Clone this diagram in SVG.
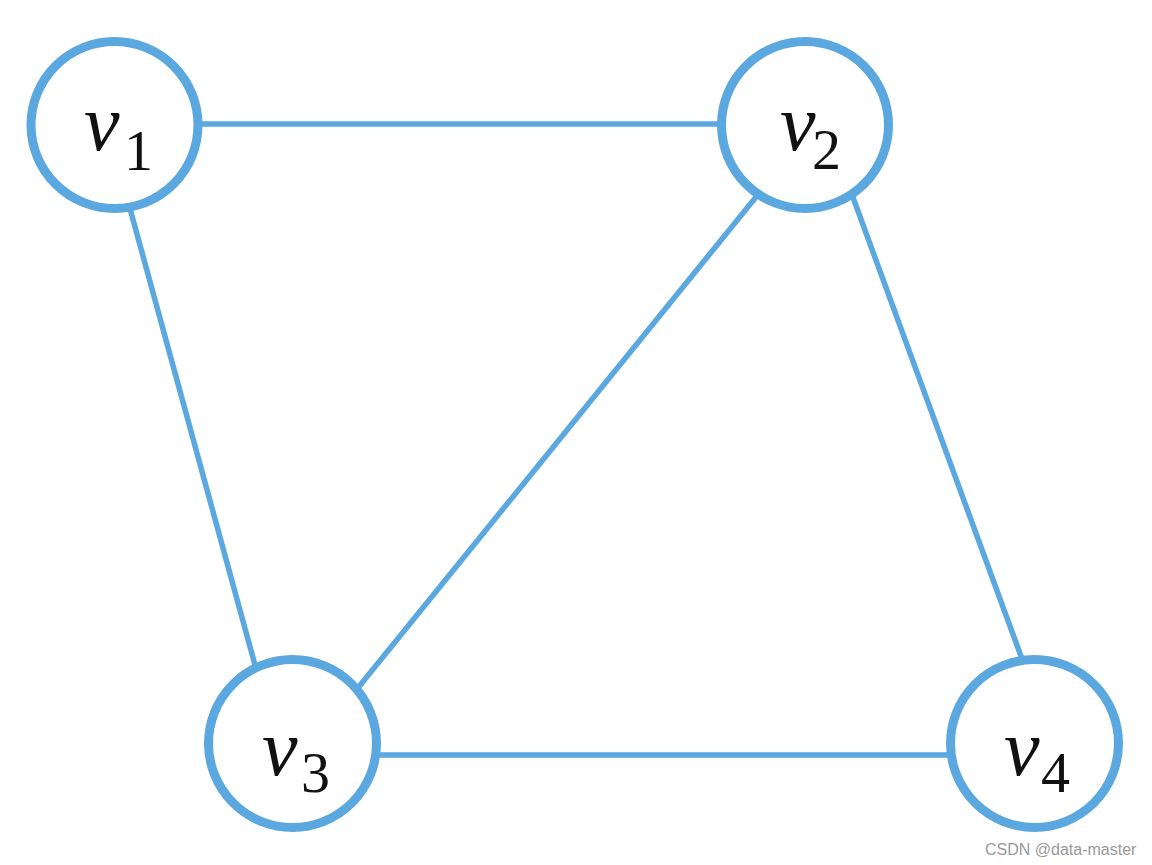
<svg xmlns="http://www.w3.org/2000/svg" width="1152" height="865" viewBox="0 0 1152 865">
<style>
.edge{stroke:#5aa8df;stroke-width:5.5;fill:none;stroke-linecap:butt}
.node{fill:#ffffff;stroke:#5aa8df;stroke-width:9}
.v{font-family:"Liberation Serif","Times New Roman",serif;font-style:italic;font-size:80px;fill:#111}
.sub{font-family:"Liberation Serif","Times New Roman",serif;font-size:58px;fill:#111}
.wm{font-family:"Liberation Sans",Arial,sans-serif;font-size:16px;fill:#999}
</style>
<rect width="1152" height="865" fill="#ffffff"/>
<g id="connectors">
<line class="edge" x1="200" y1="124" x2="720" y2="124"/>
<line class="edge" x1="129" y1="205" x2="255" y2="665"/>
<line class="edge" x1="756" y1="197" x2="357" y2="689"/>
<line class="edge" x1="851" y1="192" x2="1022" y2="659"/>
<line class="edge" x1="375" y1="755" x2="950" y2="755"/>
</g>
<g id="v1">
<circle class="node" cx="114.5" cy="125" r="83.5"/>
<text class="v" x="84" y="150">v</text><text class="sub" x="124" y="170">1</text>
</g>
<g id="v2">
<circle class="node" cx="805" cy="125" r="83.5"/>
<text class="v" x="780" y="150">v</text><text class="sub" x="812" y="169">2</text>
</g>
<g id="v3">
<circle class="node" cx="292.5" cy="743.5" r="84"/>
<text class="v" x="262" y="775">v</text><text class="sub" x="301" y="792">3</text>
</g>
<g id="v4">
<circle class="node" cx="1034.5" cy="743.5" r="84"/>
<text class="v" x="1004" y="775">v</text><text class="sub" x="1041" y="792">4</text>
</g>
<text class="wm" x="985" y="855">CSDN @data-master</text>
</svg>
